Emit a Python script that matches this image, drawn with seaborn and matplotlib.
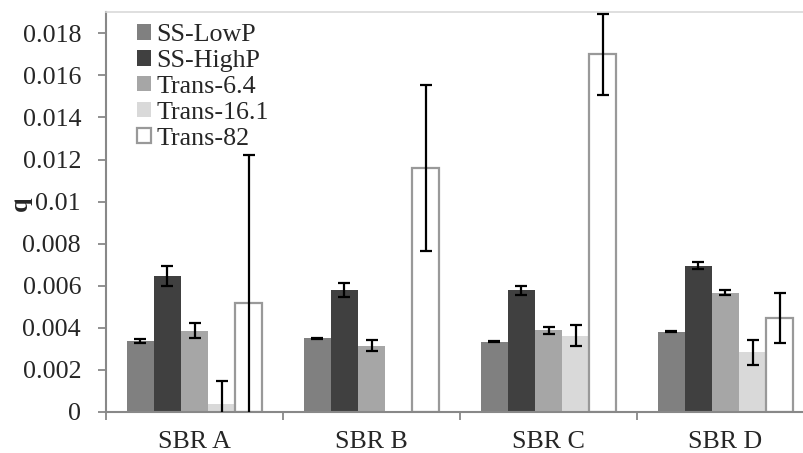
import numpy as np
import pandas as pd
import matplotlib
matplotlib.use("Agg")
import matplotlib.pyplot as plt
import seaborn as sns

categories = ["SBR A", "SBR B", "SBR C", "SBR D"]
series = ["SS-LowP", "SS-HighP", "Trans-6.4", "Trans-16.1", "Trans-82"]

ss_lowp = [0.00338, 0.00351, 0.00335, 0.00382]
ss_highp = [0.00646, 0.00580, 0.00578, 0.00695]
trans_6_4 = [0.00387, 0.00316, 0.00389, 0.00568]
trans_16_1 = [0.00037, np.nan, 0.00363, 0.00284]
trans_82 = [0.00516, 0.01159, 0.01700, 0.00446]

err_ss_lowp = [0.00008, 0.00003, 0.00003, 0.00003]
err_ss_highp = [0.00046, 0.00031, 0.00020, 0.00016]
err_trans_6_4 = [0.00036, 0.00026, 0.00016, 0.00011]
err_trans_16_1 = [0.00112, np.nan, 0.00051, 0.00060]
err_trans_82 = [0.00706, 0.00395, 0.00194, 0.00120]

yticks = [0, 0.002, 0.004, 0.006, 0.008, 0.01, 0.012, 0.014, 0.016, 0.018]
ytick_labels = ["0", "0.002", "0.004", "0.006", "0.008", "0.01", "0.012",
                "0.014", "0.016", "0.018"]

colors = ["#808080", "#404040", "#a6a6a6", "#d9d9d9", "#ffffff"]

values = [ss_lowp, ss_highp, trans_6_4, trans_16_1, trans_82]
errors = [err_ss_lowp, err_ss_highp, err_trans_6_4, err_trans_16_1, err_trans_82]

rows = []
for s, vals in zip(series, values):
    for c, v in zip(categories, vals):
        rows.append({"cat": c, "series": s, "q": v})
df = pd.DataFrame(rows)

sns.set_style("white")
plt.rcParams["font.family"] = ["Liberation Serif", "DejaVu Serif"]
FS = 18.7

fig = plt.figure(figsize=(8.04, 4.53), dpi=100)
ax = fig.add_axes([106 / 804, 41 / 453, 708 / 804, 399.7 / 453])

sns.barplot(data=df, x="cat", y="q", hue="series", order=categories,
            hue_order=series, palette=colors, saturation=1, width=0.763,
            errorbar=None, linewidth=0, ax=ax, legend=False)

bar_containers = list(ax.containers)
for i, cont in enumerate(bar_containers):
    for p in cont.patches:
        if series[i] == "Trans-82":
            p.set_edgecolor("#999999")
            p.set_linewidth(1.6)
        else:
            p.set_edgecolor(colors[i])
            p.set_linewidth(0)
        xc = p.get_x() + p.get_width() / 2
        ci = int(round(xc))
        e = errors[i][ci]
        h = p.get_height()
        if np.isnan(e) or np.isnan(h):
            continue
        ax.errorbar(xc, h, yerr=e, fmt="none", ecolor="black",
                    elinewidth=1.6, capsize=4.3, capthick=1.6, zorder=5)

ax.set_xlim(-0.5, len(categories) - 0.5)
ax.set_ylim(0, 0.019)
ax.set_yticks(yticks)
ax.set_yticklabels(ytick_labels, fontsize=FS)
ax.set_xticks(range(len(categories)))
ax.set_xticklabels(categories, fontsize=FS)
ax.set_xticks(np.arange(-0.5, len(categories) + 0.5, 1), minor=True)
ax.tick_params(axis="x", which="major", length=0, pad=14)
ax.tick_params(axis="x", which="minor", length=6, width=1.3, color="#888888",
               direction="out", bottom=True)
ax.tick_params(axis="y", length=6, width=1.3, color="#888888", direction="out",
               left=True, pad=12)
ax.set_xlabel("")
ax.set_ylabel("q", fontsize=FS, fontweight="bold", labelpad=-6.5, y=0.52)

for side in ["left", "bottom"]:
    ax.spines[side].set_color("#888888")
    ax.spines[side].set_linewidth(1.5)
ax.spines["top"].set_color("#d9d9d9")
ax.spines["top"].set_linewidth(1.2)
ax.spines["right"].set_visible(False)

handles = [cont.patches[0] for cont in bar_containers]
leg = ax.legend(handles=handles, labels=series, loc="upper left",
                bbox_to_anchor=(0.027, 1.0), frameon=False, fontsize=FS,
                labelspacing=0.15, handlelength=0.55, handleheight=0.55,
                handletextpad=0.2, borderpad=0.2, borderaxespad=0.25)

fig.savefig("out.png", dpi=100)
